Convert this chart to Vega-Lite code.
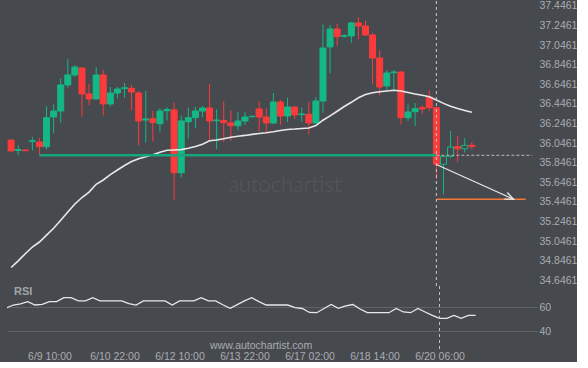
{
  "$schema": "https://vega.github.io/schema/vega-lite/v6.json",
  "background": "#46494e",
  "padding": {"left": 7, "top": 0, "right": 0, "bottom": 0},
  "spacing": 0,
  "bounds": "flush",
  "config": {
    "view": {"stroke": null},
    "font": "Liberation Sans",
    "axis": {"labelFont": "Liberation Sans", "labelColor": "#a9acb1", "labelFontSize": 10.5, "ticks": false, "domain": false, "grid": false, "title": null, "labelOverlap": false}
  },
  "datasets": {
    "candles": [
      {"i":0,"o":36.078,"h":36.078,"l":35.966,"c":35.966,"ma":34.777,"rsi":59.4},
      {"i":1,"o":35.971,"h":36.024,"l":35.922,"c":35.981,"ma":34.845,"rsi":61.9},
      {"i":2,"o":35.976,"h":35.976,"l":35.966,"c":35.969,"ma":34.917,"rsi":62.8},
      {"i":3,"o":36.063,"h":36.109,"l":35.973,"c":36.071,"ma":34.986,"rsi":64.7},
      {"i":4,"o":36.058,"h":36.099,"l":35.922,"c":36.010,"ma":35.037,"rsi":61.9},
      {"i":5,"o":36.010,"h":36.422,"l":35.983,"c":36.306,"ma":35.107,"rsi":62.5},
      {"i":6,"o":36.313,"h":36.443,"l":36.147,"c":36.374,"ma":35.177,"rsi":64.7},
      {"i":7,"o":36.374,"h":36.708,"l":36.255,"c":36.640,"ma":35.260,"rsi":64.7},
      {"i":8,"o":36.640,"h":36.902,"l":36.612,"c":36.742,"ma":35.343,"rsi":68.0},
      {"i":9,"o":36.742,"h":36.844,"l":36.721,"c":36.823,"ma":35.425,"rsi":68.0},
      {"i":10,"o":36.813,"h":36.823,"l":36.316,"c":36.548,"ma":35.491,"rsi":65.3},
      {"i":11,"o":36.548,"h":36.650,"l":36.432,"c":36.497,"ma":35.547,"rsi":65.3},
      {"i":12,"o":36.497,"h":36.823,"l":36.487,"c":36.742,"ma":35.626,"rsi":68.0},
      {"i":13,"o":36.742,"h":36.793,"l":36.330,"c":36.446,"ma":35.670,"rsi":65.3},
      {"i":14,"o":36.446,"h":36.619,"l":36.422,"c":36.558,"ma":35.724,"rsi":65.3},
      {"i":15,"o":36.558,"h":36.619,"l":36.504,"c":36.599,"ma":35.772,"rsi":65.3},
      {"i":16,"o":36.604,"h":36.660,"l":36.510,"c":36.611,"ma":35.818,"rsi":65.3},
      {"i":17,"o":36.606,"h":36.640,"l":36.381,"c":36.568,"ma":35.858,"rsi":63.0},
      {"i":18,"o":36.558,"h":36.578,"l":36.024,"c":36.272,"ma":35.888,"rsi":61.9},
      {"i":19,"o":36.282,"h":36.578,"l":36.051,"c":36.293,"ma":35.908,"rsi":65.3},
      {"i":20,"o":36.296,"h":36.374,"l":36.063,"c":36.255,"ma":35.927,"rsi":65.3},
      {"i":21,"o":36.245,"h":36.405,"l":36.155,"c":36.374,"ma":35.953,"rsi":65.3},
      {"i":22,"o":36.377,"h":36.410,"l":36.279,"c":36.390,"ma":35.973,"rsi":65.3},
      {"i":23,"o":36.385,"h":36.461,"l":35.466,"c":35.744,"ma":35.976,"rsi":61.9},
      {"i":24,"o":35.744,"h":36.330,"l":35.695,"c":36.272,"ma":35.980,"rsi":65.3},
      {"i":25,"o":36.265,"h":36.410,"l":36.094,"c":36.306,"ma":35.994,"rsi":65.3},
      {"i":26,"o":36.306,"h":36.415,"l":36.201,"c":36.374,"ma":36.012,"rsi":65.3},
      {"i":27,"o":36.374,"h":36.425,"l":36.313,"c":36.405,"ma":36.035,"rsi":68.0},
      {"i":28,"o":36.405,"h":36.650,"l":36.068,"c":36.272,"ma":36.071,"rsi":65.3},
      {"i":29,"o":36.275,"h":36.392,"l":35.983,"c":36.282,"ma":36.078,"rsi":65.3},
      {"i":30,"o":36.279,"h":36.476,"l":36.058,"c":36.255,"ma":36.091,"rsi":62.1},
      {"i":31,"o":36.252,"h":36.381,"l":36.068,"c":36.224,"ma":36.106,"rsi":59.2},
      {"i":32,"o":36.224,"h":36.364,"l":36.177,"c":36.272,"ma":36.116,"rsi":62.2},
      {"i":33,"o":36.272,"h":36.364,"l":36.231,"c":36.313,"ma":36.125,"rsi":65.3},
      {"i":34,"o":36.316,"h":36.328,"l":36.308,"c":36.320,"ma":36.136,"rsi":68.0},
      {"i":35,"o":36.395,"h":36.476,"l":36.170,"c":36.313,"ma":36.145,"rsi":64.7},
      {"i":36,"o":36.313,"h":36.402,"l":36.150,"c":36.252,"ma":36.152,"rsi":61.9},
      {"i":37,"o":36.252,"h":36.558,"l":36.242,"c":36.466,"ma":36.163,"rsi":61.9},
      {"i":38,"o":36.466,"h":36.487,"l":36.231,"c":36.323,"ma":36.176,"rsi":61.9},
      {"i":39,"o":36.323,"h":36.510,"l":36.262,"c":36.415,"ma":36.186,"rsi":61.9},
      {"i":40,"o":36.415,"h":36.425,"l":36.293,"c":36.334,"ma":36.190,"rsi":59.7},
      {"i":41,"o":36.337,"h":36.408,"l":36.265,"c":36.344,"ma":36.196,"rsi":59.0},
      {"i":42,"o":36.341,"h":36.466,"l":36.136,"c":36.252,"ma":36.201,"rsi":55.7},
      {"i":43,"o":36.252,"h":36.517,"l":36.242,"c":36.476,"ma":36.226,"rsi":55.5},
      {"i":44,"o":36.476,"h":37.259,"l":36.357,"c":37.017,"ma":36.280,"rsi":59.0},
      {"i":45,"o":37.028,"h":37.252,"l":36.759,"c":37.211,"ma":36.325,"rsi":62.3},
      {"i":46,"o":37.211,"h":37.265,"l":37.041,"c":37.133,"ma":36.372,"rsi":59.2},
      {"i":47,"o":37.137,"h":37.160,"l":37.120,"c":37.143,"ma":36.420,"rsi":61.1},
      {"i":48,"o":37.140,"h":37.286,"l":37.071,"c":37.273,"ma":36.463,"rsi":62.3},
      {"i":49,"o":37.273,"h":37.334,"l":37.106,"c":37.242,"ma":36.509,"rsi":58.6},
      {"i":50,"o":37.242,"h":37.300,"l":37.140,"c":37.150,"ma":36.543,"rsi":55.5},
      {"i":51,"o":37.150,"h":37.170,"l":36.647,"c":36.915,"ma":36.560,"rsi":55.5},
      {"i":52,"o":36.915,"h":36.997,"l":36.535,"c":36.619,"ma":36.570,"rsi":55.5},
      {"i":53,"o":36.630,"h":36.793,"l":36.586,"c":36.762,"ma":36.578,"rsi":55.5},
      {"i":54,"o":36.765,"h":36.793,"l":36.578,"c":36.772,"ma":36.586,"rsi":59.0},
      {"i":55,"o":36.772,"h":36.783,"l":36.239,"c":36.306,"ma":36.578,"rsi":56.1},
      {"i":56,"o":36.306,"h":36.443,"l":36.272,"c":36.364,"ma":36.563,"rsi":55.5},
      {"i":57,"o":36.367,"h":36.456,"l":36.221,"c":36.398,"ma":36.548,"rsi":59.0},
      {"i":58,"o":36.408,"h":36.432,"l":36.341,"c":36.395,"ma":36.535,"rsi":56.1},
      {"i":59,"o":36.517,"h":36.586,"l":36.374,"c":36.408,"ma":36.520,"rsi":53.2},
      {"i":60,"o":36.408,"h":36.415,"l":35.680,"c":35.830,"ma":36.487,"rsi":50.8},
      {"i":61,"o":35.830,"h":35.915,"l":35.524,"c":35.912,"ma":36.452,"rsi":50.8},
      {"i":62,"o":35.912,"h":36.170,"l":35.895,"c":36.007,"ma":36.422,"rsi":53.3},
      {"i":63,"o":36.010,"h":36.119,"l":35.854,"c":35.989,"ma":36.399,"rsi":50.8},
      {"i":64,"o":35.989,"h":36.096,"l":35.949,"c":36.024,"ma":36.380,"rsi":53.3},
      {"i":65,"o":36.024,"h":36.058,"l":35.983,"c":36.010,"ma":36.362,"rsi":53.3}
    ],
    "support": [{"a": 4, "b": 60, "v": 35.922}],
    "supportExt": [{"a": 60, "b": 73.5, "v": 35.922}],
    "target": [{"a": 60, "b": 72.6, "v": 35.473}],
    "arrow": [{"a": 60, "b": 70.9, "v1": 35.828, "v2": 35.473}],
    "now": [{"i": 60}]
  },
  "vconcat": [
    {
      "width": 530,
      "height": 285,
      "layer": [
        {
          "data": {"name": "candles"},
          "mark": {"type": "rule", "strokeWidth": 1, "clip": true},
          "encoding": {
            "x": {"field": "i", "type": "quantitative", "scale": {"domain": [0.127, 73.49], "nice": false, "zero": false}, "axis": null},
            "y": {"field": "l", "type": "quantitative", "scale": {"domain": [34.588, 37.497], "nice": false, "zero": false},
                  "axis": {"orient": "right", "values": [34.6461, 34.8461, 35.0461, 35.2461, 35.4461, 35.6461, 35.8461, 36.0461, 36.2461, 36.4461, 36.6461, 36.8461, 37.0461, 37.2461, 37.4461], "tickCount": 30, "format": ".4f", "labelPadding": 2, "labelOverlap": false, "title": null}},
            "y2": {"field": "h"},
            "color": {"condition": {"test": "datum.c >= datum.o", "value": "#14b885"}, "value": "#fb3b3b"}
          }
        },
        {
          "data": {"name": "candles"},
          "mark": {"type": "bar", "width": 6, "strokeWidth": 1, "clip": true},
          "encoding": {
            "x": {"field": "i", "type": "quantitative"},
            "y": {"field": "o", "type": "quantitative"},
            "y2": {"field": "c"},
            "fill": {"condition": [{"test": "datum.i > 60 && datum.c >= datum.o", "value": "#46494e"}, {"test": "datum.c >= datum.o", "value": "#14b885"}], "value": "#fb3b3b"},
            "stroke": {"condition": {"test": "datum.c >= datum.o", "value": "#14b885"}, "value": "#fb3b3b"}
          }
        },
        {
          "data": {"name": "candles"},
          "mark": {"type": "line", "color": "#e8e8e8", "strokeWidth": 1.6, "clip": true},
          "encoding": {
            "x": {"field": "i", "type": "quantitative"},
            "y": {"field": "ma", "type": "quantitative"}
          }
        },
        {
          "data": {"name": "support"},
          "mark": {"type": "rule", "color": "#17a67b", "strokeWidth": 2.5},
          "encoding": {
            "x": {"field": "a", "type": "quantitative"},
            "x2": {"field": "b"},
            "y": {"field": "v", "type": "quantitative"}
          }
        },
        {
          "data": {"name": "supportExt"},
          "mark": {"type": "rule", "color": "#b8babd", "strokeWidth": 1, "strokeDash": [3, 2], "clip": true},
          "encoding": {
            "x": {"field": "a", "type": "quantitative"},
            "x2": {"field": "b"},
            "y": {"field": "v", "type": "quantitative"}
          }
        },
        {
          "data": {"name": "target"},
          "mark": {"type": "rule", "color": "#f47a33", "strokeWidth": 1.5},
          "encoding": {
            "x": {"field": "a", "type": "quantitative"},
            "x2": {"field": "b"},
            "y": {"field": "v", "type": "quantitative"}
          }
        },
        {
          "data": {"name": "arrow"},
          "mark": {"type": "rule", "color": "#e6e6e6", "strokeWidth": 1.3},
          "encoding": {
            "x": {"field": "a", "type": "quantitative"},
            "x2": {"field": "b"},
            "y": {"field": "v1", "type": "quantitative"},
            "y2": {"field": "v2"}
          }
        },
        {
          "data": {"name": "arrow"},
          "mark": {"type": "point", "shape": "M-1,-0.42L0,0L-1,0.42", "filled": false, "size": 300, "angle": 24, "stroke": "#e6e6e6", "strokeWidth": 1.3, "opacity": 1},
          "encoding": {
            "x": {"field": "b", "type": "quantitative"},
            "y": {"field": "v2", "type": "quantitative"}
          }
        },
        {
          "data": {"name": "now"},
          "mark": {"type": "rule", "color": "#c4c6c9", "strokeWidth": 1, "strokeDash": [3, 3]},
          "encoding": {
            "x": {"field": "i", "type": "quantitative"}
          }
        },
        {
          "data": {"name": "now"},
          "mark": {"type": "text", "text": "autochartist", "fontSize": 22, "fontWeight": 300, "color": "#55585d", "font": "Lato", "align": "center", "baseline": "middle"},
          "encoding": {
            "x": {"datum": 38.6, "type": "quantitative"},
            "y": {"datum": 35.619, "type": "quantitative"}
          }
        }
      ]
    },
    {
      "width": 530,
      "height": 63,
      "layer": [
        {
          "data": {"name": "candles"},
          "mark": {"type": "line", "color": "#e8e8e8", "strokeWidth": 1.3, "clip": true},
          "encoding": {
            "x": {"field": "i", "type": "quantitative", "scale": {"domain": [0.127, 73.49], "nice": false, "zero": false},
                  "axis": {"orient": "bottom", "values": [6, 15, 24, 33, 42, 51, 60], "tickCount": 20, "labelPadding": 2, "labelOverlap": false, "title": null,
                           "labelExpr": "datum.value == 6 ? '6/9 10:00' : datum.value == 15 ? '6/10 22:00' : datum.value == 24 ? '6/12 10:00' : datum.value == 33 ? '6/13 22:00' : datum.value == 42 ? '6/17 02:00' : datum.value == 51 ? '6/18 14:00' : '6/20 06:00'"}},
            "y": {"field": "rsi", "type": "quantitative", "scale": {"domain": [25.25, 77.75], "nice": false, "zero": false},
                  "axis": {"orient": "right", "values": [40, 60], "grid": true, "gridColor": "#5e6166", "gridWidth": 1, "labelPadding": 2, "title": null}}
          }
        },
        {
          "data": {"name": "now"},
          "mark": {"type": "rule", "color": "#c4c6c9", "strokeWidth": 1, "strokeDash": [3, 3]},
          "encoding": {
            "x": {"field": "i", "type": "quantitative"}
          }
        },
        {
          "data": {"name": "now"},
          "mark": {"type": "text", "text": "RSI", "fontSize": 11, "fontWeight": "bold", "color": "#a3a6ab", "align": "left", "baseline": "middle"},
          "encoding": {
            "x": {"datum": 1.1, "type": "quantitative"},
            "y": {"datum": 72.75, "type": "quantitative"}
          }
        },
        {
          "data": {"name": "now"},
          "mark": {"type": "text", "text": "www.autochartist.com", "fontSize": 10.5, "color": "#a9acb1", "align": "center", "baseline": "middle"},
          "encoding": {
            "x": {"datum": 35.3, "type": "quantitative"},
            "y": {"datum": 27.75, "type": "quantitative"}
          }
        }
      ]
    }
  ]
}
